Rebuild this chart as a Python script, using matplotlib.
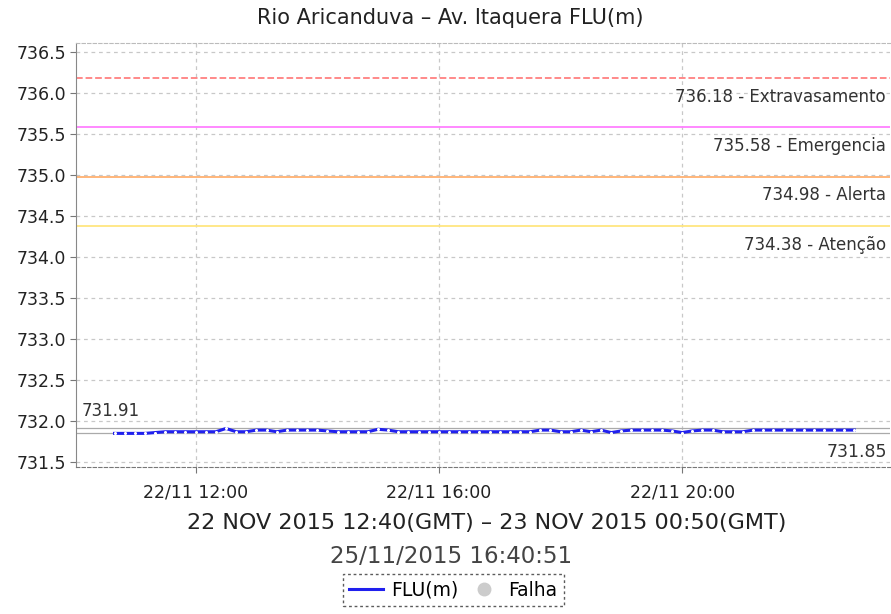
import numpy as np
import pandas as pd
import matplotlib
matplotlib.use('Agg')
import matplotlib.pyplot as plt
import matplotlib.dates as mdates
from matplotlib.lines import Line2D

# readings every 10 minutes, local time, 22/11/2015 10:40 -> 22:50
times = pd.date_range('2015-11-22 10:40', '2015-11-22 22:50', freq='10min')
flu = [731.85, 731.85, 731.85, 731.85, 731.86, 731.87, 731.87, 731.87, 731.87, 731.87,
       731.87, 731.91, 731.87, 731.87, 731.89, 731.89, 731.87, 731.89, 731.89, 731.89,
       731.89, 731.88, 731.87, 731.87, 731.87, 731.87, 731.90, 731.89, 731.87, 731.87,
       731.87, 731.87, 731.87, 731.87, 731.87, 731.87, 731.87, 731.87, 731.87, 731.87,
       731.87, 731.87, 731.89, 731.89, 731.87, 731.87, 731.89, 731.87, 731.89, 731.86,
       731.88, 731.89, 731.89, 731.89, 731.89, 731.88, 731.86, 731.88, 731.89, 731.89,
       731.87, 731.87, 731.87, 731.89, 731.89, 731.89, 731.89, 731.89, 731.89, 731.89,
       731.89, 731.89, 731.89, 731.89]

levels = [736.18, 735.58, 734.98, 734.38]
level_names = ['Extravasamento', 'Emergencia', 'Alerta', 'Atenção']
level_colors = ['#ff8080', '#ff80ff', '#ffb070', '#ffe680']
level_styles = ['--', '-', '-', '-']

fig = plt.figure(figsize=(8.91, 6.14), dpi=100)
ax = fig.add_axes([0.0853, 0.2394, 0.9135, 0.6906])

ax.set_xlim(pd.Timestamp('2015-11-22 10:02'), pd.Timestamp('2015-11-22 23:25'))
ax.set_ylim(731.44, 736.61)
ax.set_yticks(np.arange(731.5, 736.51, 0.5))
ax.yaxis.set_major_formatter(matplotlib.ticker.FormatStrFormatter('%.1f'))
ax.xaxis.set_major_locator(mdates.HourLocator(byhour=[12, 16, 20]))
ax.xaxis.set_major_formatter(mdates.DateFormatter('%d/%m %H:%M'))
ax.tick_params(axis='y', labelsize=12.5, colors='#222222', length=4, color='#777777', pad=3)
ax.tick_params(axis='x', labelsize=12.5, colors='#222222', length=4, color='#777777', pad=8)

ax.grid(True, color='#c8c8c8', linestyle=(0, (3, 3)), linewidth=0.9)
ax.set_axisbelow(True)
ax.spines['left'].set_color('#888888')
ax.spines['bottom'].set_color('#777777')
ax.spines['bottom'].set_linestyle((0, (3, 2)))
ax.spines['top'].set_color('#bbbbbb')
ax.spines['top'].set_linestyle((0, (3, 2)))
ax.spines['right'].set_visible(False)

for v, name, c, ls in zip(levels, level_names, level_colors, level_styles):
    ax.axhline(v, color=c, linestyle=ls, linewidth=1.3)
    ax.annotate(f'{v:.2f} - {name}', xy=(1, v), xycoords=('axes fraction', 'data'),
                xytext=(-3, -20), textcoords='offset points', ha='right', va='bottom',
                fontsize=12, color='#333333')

fmax, fmin = max(flu), min(flu)
ax.axhline(fmax, color='#aaaaaa', linewidth=0.9)
ax.axhline(fmin, color='#aaaaaa', linewidth=0.9)
ax.annotate(f'{fmax:.2f}', xy=(0, fmax), xycoords=('axes fraction', 'data'),
            xytext=(4, 6), textcoords='offset points', ha='left', va='bottom',
            fontsize=12, color='#333333')
ax.annotate(f'{fmin:.2f}', xy=(1, fmin), xycoords=('axes fraction', 'data'),
            xytext=(-2, -7), textcoords='offset points', ha='right', va='top',
            fontsize=12.5, color='#333333')

ax.plot(times, flu, color='#2020ee', linewidth=2.2, marker='o', markersize=1.2,
        markerfacecolor='white', markeredgecolor='white')

fig.text(0.505, 0.970, 'Rio Aricanduva – Av. Itaquera FLU(m)', ha='center', va='center',
         fontsize=15, color='#222222')
fig.text(0.546, 0.149, '22 NOV 2015 12:40(GMT) – 23 NOV 2015 00:50(GMT)',
         ha='center', va='center', fontsize=16, color='#222222')
fig.text(0.506, 0.093, '25/11/2015 16:40:51', ha='center', va='center',
         fontsize=16.5, color='#444444')

handles = [Line2D([], [], color='#2020ee', linewidth=2.2),
           Line2D([], [], linestyle='none', marker='o', markersize=9,
                  markerfacecolor='#cccccc', markeredgecolor='#cccccc')]
leg = fig.legend(handles, ['FLU(m)', 'Falha'], loc='center', bbox_to_anchor=(0.509, 0.039),
                 ncol=2, fontsize=13.5, frameon=True, fancybox=False,
                 handlelength=1.8, handletextpad=0.4, columnspacing=0.5,
                 borderpad=0.35, edgecolor='#333333')
leg.get_frame().set_linestyle((0, (2, 2)))
leg.get_frame().set_linewidth(1.0)

fig.savefig('out.png', dpi=100)
